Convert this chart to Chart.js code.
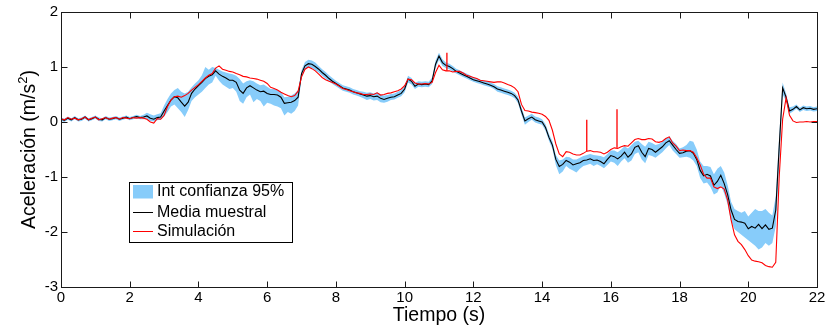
<!DOCTYPE html>
<html>
<head>
<meta charset="utf-8">
<script src="https://cdn.jsdelivr.net/npm/chart.js@4/dist/chart.umd.min.js"></script>
<style>
  html, body { margin: 0; padding: 0; background: #fff; }
  #c { display: block; }
</style>
</head>
<body>
<canvas id="c" width="830" height="328"></canvas>
<script>
// ---- Data ----
// Sampling grid: 0 .. 22 s every 0.1 s
const times = Array.from({ length: 221 }, (_, i) => Math.round(i) / 10);

const meanValues = [
  0.05, 0.03, 0.07, 0.04, 0.08, 0.04, 0.05, 0.09, 0.04, 0.06,
  0.09, 0.05, 0.04, 0.08, 0.05, 0.06, 0.08, 0.05, 0.07, 0.09,
  0.06, 0.08, 0.10, 0.08, 0.09, 0.11, 0.07, 0.05, 0.08, 0.09,
  0.20, 0.30, 0.40, 0.46, 0.44, 0.36, 0.29, 0.36, 0.52, 0.60,
  0.66, 0.72, 0.79, 0.83, 0.86, 0.93, 0.87, 0.83, 0.80, 0.76,
  0.76, 0.72, 0.58, 0.52, 0.62, 0.66, 0.62, 0.58, 0.55, 0.56,
  0.52, 0.50, 0.50, 0.49, 0.45, 0.34, 0.35, 0.36, 0.39, 0.45,
  0.88, 1.02, 1.06, 1.05, 1.01, 0.96, 0.90, 0.85, 0.79, 0.74,
  0.70, 0.66, 0.62, 0.60, 0.58, 0.55, 0.53, 0.51, 0.49, 0.47,
  0.48, 0.46, 0.47, 0.43, 0.41, 0.43, 0.45, 0.46, 0.49, 0.52,
  0.60, 0.78, 0.74, 0.65, 0.69, 0.68, 0.69, 0.68, 0.75, 1.05,
  1.20, 1.08, 1.03, 1.01, 0.97, 0.92, 0.89, 0.86, 0.83, 0.80,
  0.77, 0.75, 0.73, 0.71, 0.69, 0.67, 0.64, 0.60, 0.58, 0.56,
  0.54, 0.52, 0.48, 0.40, 0.20, 0.02, 0.06, 0.09, 0.04, 0.02,
  0.00, -0.10, -0.28, -0.42, -0.68, -0.81, -0.77, -0.70, -0.73, -0.78,
  -0.76, -0.74, -0.70, -0.69, -0.67, -0.70, -0.69, -0.72, -0.76, -0.68,
  -0.61, -0.63, -0.67, -0.62, -0.55, -0.64, -0.58, -0.46, -0.43, -0.55,
  -0.63, -0.48, -0.50, -0.55, -0.50, -0.45, -0.38, -0.34, -0.42, -0.50,
  -0.57, -0.56, -0.53, -0.52, -0.57, -0.68, -0.88, -0.98, -0.95, -0.98,
  -1.15, -1.08, -0.97, -1.12, -1.32, -1.60, -1.77, -1.81, -1.82, -1.84,
  -1.94, -1.90, -1.93, -1.86, -1.94, -1.87, -1.95, -1.93, -1.60, -0.45,
  0.62, 0.45, 0.20, 0.23, 0.28, 0.22, 0.26, 0.24, 0.25, 0.23,
  0.24
];

const lowerValues = [
  0.02, 0.00, 0.04, 0.01, 0.05, 0.01, 0.02, 0.06, 0.01, 0.03,
  0.06, 0.02, 0.01, 0.05, 0.02, 0.03, 0.05, 0.02, 0.04, 0.06,
  0.03, 0.05, 0.07, 0.05, 0.05, 0.06, 0.02, 0.01, 0.03, 0.04,
  0.10, 0.18, 0.28, 0.32, 0.25, 0.18, 0.09, 0.22, 0.38, 0.45,
  0.50, 0.55, 0.62, 0.68, 0.72, 0.84, 0.75, 0.68, 0.64, 0.60,
  0.62, 0.55, 0.38, 0.33, 0.45, 0.50, 0.36, 0.42, 0.38, 0.28,
  0.35, 0.33, 0.30, 0.28, 0.25, 0.12, 0.18, 0.15, 0.20, 0.30,
  0.80, 0.95, 0.99, 0.98, 0.94, 0.90, 0.84, 0.79, 0.74, 0.69,
  0.65, 0.61, 0.57, 0.55, 0.53, 0.50, 0.48, 0.46, 0.43, 0.40,
  0.42, 0.39, 0.40, 0.36, 0.35, 0.37, 0.40, 0.41, 0.44, 0.47,
  0.54, 0.72, 0.68, 0.60, 0.64, 0.63, 0.64, 0.63, 0.69, 0.98,
  1.13, 1.02, 0.98, 0.96, 0.92, 0.88, 0.85, 0.82, 0.79, 0.76,
  0.73, 0.71, 0.69, 0.67, 0.65, 0.63, 0.60, 0.55, 0.53, 0.51,
  0.49, 0.47, 0.43, 0.34, 0.13, -0.05, 0.00, 0.04, -0.01, -0.03,
  -0.05, -0.16, -0.34, -0.49, -0.78, -0.95, -0.90, -0.80, -0.85, -0.88,
  -0.92, -0.85, -0.80, -0.78, -0.76, -0.80, -0.77, -0.80, -0.84, -0.78,
  -0.72, -0.74, -0.80, -0.72, -0.66, -0.74, -0.70, -0.58, -0.55, -0.68,
  -0.75, -0.60, -0.62, -0.65, -0.60, -0.55, -0.48, -0.42, -0.52, -0.58,
  -0.65, -0.64, -0.63, -0.65, -0.70, -0.80, -1.02, -1.12, -1.10, -1.18,
  -1.32, -1.28, -1.15, -1.30, -1.50, -1.80, -1.95, -2.00, -2.05, -2.10,
  -2.15, -2.20, -2.25, -2.32, -2.28, -2.20, -2.25, -2.20, -1.90, -0.75,
  0.50, 0.38, 0.15, 0.19, 0.24, 0.18, 0.22, 0.20, 0.21, 0.19,
  0.20
];

const upperValues = [
  0.08, 0.06, 0.10, 0.07, 0.11, 0.07, 0.08, 0.12, 0.07, 0.09,
  0.12, 0.08, 0.07, 0.11, 0.08, 0.09, 0.11, 0.08, 0.10, 0.12,
  0.09, 0.11, 0.13, 0.11, 0.13, 0.17, 0.14, 0.12, 0.14, 0.16,
  0.30, 0.42, 0.52, 0.58, 0.62, 0.55, 0.52, 0.55, 0.63, 0.70,
  0.76, 0.85, 1.00, 0.95, 1.00, 0.98, 0.95, 0.92, 0.90, 0.88,
  0.87, 0.84, 0.78, 0.70, 0.74, 0.76, 0.74, 0.70, 0.67, 0.68,
  0.64, 0.60, 0.60, 0.58, 0.55, 0.45, 0.46, 0.48, 0.52, 0.58,
  0.94, 1.09, 1.13, 1.12, 1.08, 1.02, 0.96, 0.91, 0.85, 0.80,
  0.75, 0.71, 0.67, 0.65, 0.63, 0.60, 0.58, 0.56, 0.55, 0.53,
  0.54, 0.52, 0.54, 0.50, 0.48, 0.49, 0.51, 0.52, 0.55, 0.58,
  0.66, 0.84, 0.80, 0.71, 0.74, 0.73, 0.74, 0.73, 0.81, 1.12,
  1.26, 1.14, 1.08, 1.06, 1.02, 0.97, 0.94, 0.91, 0.88, 0.85,
  0.81, 0.79, 0.77, 0.75, 0.74, 0.72, 0.69, 0.65, 0.63, 0.61,
  0.59, 0.57, 0.53, 0.46, 0.27, 0.08, 0.12, 0.15, 0.10, 0.08,
  0.05, -0.04, -0.22, -0.35, -0.60, -0.70, -0.68, -0.63, -0.64, -0.68,
  -0.68, -0.65, -0.62, -0.60, -0.58, -0.60, -0.61, -0.62, -0.64, -0.58,
  -0.52, -0.52, -0.55, -0.50, -0.44, -0.48, -0.42, -0.36, -0.34, -0.40,
  -0.45, -0.36, -0.38, -0.42, -0.40, -0.36, -0.30, -0.26, -0.34, -0.40,
  -0.48, -0.46, -0.42, -0.34, -0.36, -0.50, -0.72, -0.80, -0.80, -0.82,
  -0.95, -0.85, -0.80, -0.92, -1.15, -1.45, -1.58, -1.62, -1.65, -1.62,
  -1.72, -1.65, -1.58, -1.62, -1.62, -1.58, -1.65, -1.70, -1.35, -0.25,
  0.72, 0.52, 0.27, 0.28, 0.32, 0.26, 0.30, 0.28, 0.29, 0.27,
  0.28
];

const simValues = [
  0.06, 0.04, 0.08, 0.05, 0.07, 0.04, 0.06, 0.09, 0.04, 0.07,
  0.09, 0.04, 0.06, 0.08, 0.05, 0.07, 0.08, 0.05, 0.08, 0.07,
  0.06, 0.08, 0.07, 0.08, 0.07, 0.05, 0.00, -0.02, 0.06, 0.05,
  0.12, 0.28, 0.40, 0.46, 0.47, 0.45, 0.48, 0.52, 0.58, 0.63,
  0.68, 0.74, 0.80, 0.85, 0.88, 0.98, 1.02, 0.96, 0.94, 0.92,
  0.91, 0.88, 0.86, 0.83, 0.82, 0.80, 0.79, 0.78, 0.76, 0.74,
  0.70, 0.63, 0.61, 0.58, 0.54, 0.51, 0.48, 0.46, 0.48, 0.56,
  0.82, 0.96, 1.00, 0.97, 0.93, 0.87, 0.81, 0.77, 0.74, 0.72,
  0.69, 0.65, 0.61, 0.59, 0.57, 0.55, 0.53, 0.52, 0.50, 0.50,
  0.51, 0.50, 0.53, 0.49, 0.50, 0.52, 0.53, 0.55, 0.57, 0.60,
  0.66, 0.78, 0.77, 0.71, 0.69, 0.69, 0.70, 0.69, 0.72, 0.90,
  1.03, 0.95, 0.93, 0.93, 0.91, 0.92, 0.92, 0.89, 0.85, 0.83,
  0.81, 0.79, 0.76, 0.75, 0.74, 0.73, 0.72, 0.73, 0.73, 0.71,
  0.68, 0.66, 0.62, 0.55, 0.32, 0.21, 0.20, 0.18, 0.17, 0.16,
  0.14, 0.10, 0.03, -0.15, -0.40, -0.58, -0.63, -0.54, -0.55, -0.58,
  -0.60, -0.60, -0.57, -0.53, -0.52, -0.54, -0.54, -0.55, -0.58, -0.55,
  -0.50, -0.47, -0.48, -0.45, -0.43, -0.44, -0.38, -0.32, -0.30, -0.32,
  -0.32, -0.30, -0.31, -0.36, -0.37, -0.35, -0.30, -0.27, -0.38, -0.44,
  -0.52, -0.51, -0.52, -0.52, -0.55, -0.65, -0.78, -0.95, -1.02, -1.02,
  -1.18, -1.21, -1.18, -1.22, -1.42, -1.78, -2.05, -2.17, -2.23, -2.32,
  -2.43, -2.51, -2.53, -2.54, -2.56, -2.61, -2.63, -2.64, -2.55, -1.00,
  0.05, 0.44, 0.12, 0.02, -0.01, 0.00, 0.00, 0.01, 0.00, 0.01,
  0.01
];

// Short vertical spikes in the simulation trace
const spikeTimes = [11.23, 15.30, 16.18];
const spikeBase  = [0.93, -0.53, -0.47];
const spikeTop   = [1.26, 0.04, 0.23];

const xTicks = [0, 2, 4, 6, 8, 10, 12, 14, 16, 18, 20, 22];
const yTicks = [-3, -2, -1, 0, 1, 2];

const legendLabels = ['Int confianza 95%', 'Media muestral', 'Simulación'];
const xTitle = 'Tiempo (s)';
const yTitleMain = 'Aceleración (m/s';
const yTitleSup = '2';
const yTitleEnd = ')';

// ---- Build datasets ----
const pts = (vals) => times.map((t, i) => ({ x: t, y: vals[i] }));
const spikePts = [];
spikeTimes.forEach((t, i) => {
  spikePts.push({ x: t, y: spikeBase[i] });
  spikePts.push({ x: t, y: spikeTop[i] });
  spikePts.push({ x: t + 0.001, y: null });
});

const BAND = 'rgb(135,204,250)';
const FONT = "'Liberation Sans', Arial, Helvetica, sans-serif";
Chart.defaults.font.family = FONT;
Chart.defaults.color = '#000';

const boxPlugin = {
  id: 'boxPlugin',
  afterDraw(chart) {
    const ctx = chart.ctx;
    const a = chart.chartArea;
    const xs = chart.scales.x, ys = chart.scales.y;
    const L = Math.round(a.left) + 0.5, R = Math.round(a.right) + 0.5;
    const T = Math.round(a.top) + 0.5, B = Math.round(a.bottom) + 0.5;
    ctx.save();
    ctx.strokeStyle = '#1a1a1a';
    ctx.lineWidth = 1;
    ctx.strokeRect(L, T, R - L, B - T);
    const tl = 6;
    ctx.beginPath();
    xTicks.forEach(v => {
      const px = Math.round(xs.getPixelForValue(v)) + 0.5;
      ctx.moveTo(px, B); ctx.lineTo(px, B - tl);
      ctx.moveTo(px, T); ctx.lineTo(px, T + tl);
    });
    yTicks.forEach(v => {
      const py = Math.round(ys.getPixelForValue(v)) + 0.5;
      ctx.moveTo(L, py); ctx.lineTo(L + tl, py);
      ctx.moveTo(R, py); ctx.lineTo(R - tl, py);
    });
    ctx.stroke();

    // Y axis title with a real superscript
    ctx.save();
    ctx.translate(30, (a.top + a.bottom) / 2);
    ctx.rotate(-Math.PI / 2);
    ctx.fillStyle = '#000';
    ctx.textBaseline = 'middle';
    ctx.textAlign = 'left';
    const fMain = '19.5px ' + FONT, fSup = '13px ' + FONT;
    ctx.font = fMain;
    const w1 = ctx.measureText(yTitleMain).width;
    const w3 = ctx.measureText(yTitleEnd).width;
    ctx.font = fSup;
    const w2 = ctx.measureText(yTitleSup).width;
    let x0 = -(w1 + w2 + w3) / 2;
    ctx.font = fMain;
    ctx.fillText(yTitleMain, x0, 0);
    ctx.font = fSup;
    ctx.fillText(yTitleSup, x0 + w1, -7);
    ctx.font = fMain;
    ctx.fillText(yTitleEnd, x0 + w1 + w2, 0);
    ctx.restore();

    // Legend box
    const lx = 129.5, ly = 182.5, lw = 163, lh = 60;
    ctx.fillStyle = '#fff';
    ctx.fillRect(lx, ly, lw, lh);
    ctx.strokeStyle = '#000';
    ctx.strokeRect(lx, ly, lw, lh);
    ctx.fillStyle = BAND;
    ctx.fillRect(133, 185, 20, 13.5);
    ctx.lineWidth = 1;
    ctx.strokeStyle = '#000';
    ctx.beginPath(); ctx.moveTo(133, 212.5); ctx.lineTo(153, 212.5); ctx.stroke();
    ctx.strokeStyle = '#ff0000';
    ctx.beginPath(); ctx.moveTo(133, 231.5); ctx.lineTo(153, 231.5); ctx.stroke();
    ctx.fillStyle = '#000';
    ctx.font = '16px ' + FONT;
    ctx.textBaseline = 'middle';
    ctx.textAlign = 'left';
    ctx.fillText(legendLabels[0], 157, 192);
    ctx.fillText(legendLabels[1], 157, 212.5);
    ctx.fillText(legendLabels[2], 157, 231.5);
    ctx.restore();
  }
};

new Chart(document.getElementById('c'), {
  type: 'line',
  data: {
    datasets: [
      { label: 'Simulación', data: pts(simValues), borderColor: '#ff0000', borderWidth: 1.1, pointRadius: 0, fill: false, tension: 0 },
      { label: 'spikes', data: spikePts, borderColor: '#ff0000', borderWidth: 1.3, pointRadius: 0, fill: false, spanGaps: false, tension: 0 },
      { label: 'Media muestral', data: pts(meanValues), borderColor: '#000', borderWidth: 1.1, pointRadius: 0, fill: false, tension: 0 },
      { label: 'lower', data: pts(lowerValues), borderWidth: 0, borderColor: BAND, pointRadius: 0, fill: false, tension: 0 },
      { label: 'Int confianza 95%', data: pts(upperValues), borderWidth: 0, borderColor: BAND, backgroundColor: BAND, pointRadius: 0, fill: '-1', tension: 0 }
    ]
  },
  options: {
    responsive: false,
    animation: false,
    devicePixelRatio: 1,
    layout: { padding: { top: 12, right: 13, left: 0, bottom: 0 } },
    plugins: { legend: { display: false }, tooltip: { enabled: false } },
    scales: {
      x: {
        type: 'linear', min: 0, max: 22,
        afterBuildTicks: (s) => { s.ticks = xTicks.map(v => ({ value: v })); },
        ticks: { font: { size: 15 }, color: '#000', padding: 2, maxRotation: 0, autoSkip: false },
        grid: { display: false, drawTicks: false },
        border: { display: false },
        title: { display: true, text: xTitle, font: { size: 19.5 }, color: '#000', padding: { top: 0, bottom: 1 } },
        afterFit: (s) => { s.height = 41; }
      },
      y: {
        type: 'linear', min: -3, max: 2,
        afterBuildTicks: (s) => { s.ticks = yTicks.map(v => ({ value: v })); },
        ticks: { font: { size: 15 }, color: '#000', padding: 3 },
        grid: { display: false, drawTicks: false },
        border: { display: false },
        title: { display: false },
        afterFit: (s) => { s.width = 61; }
      }
    }
  },
  plugins: [boxPlugin]
});
</script>
</body>
</html>
